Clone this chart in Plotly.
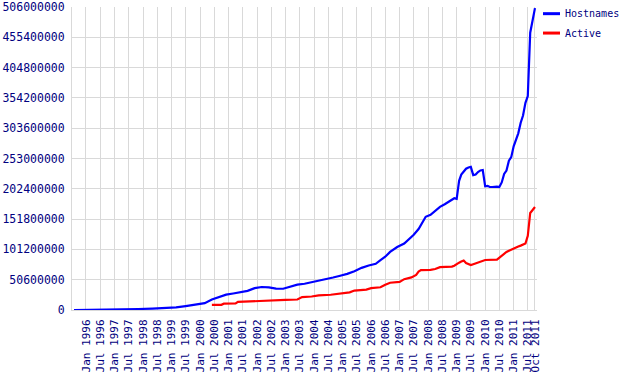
import plotly.graph_objects as go

# ---------------- data (values in millions of sites) ----------------
host_dates = [
    "1995-08-01", "1996-01-01", "1996-07-01", "1997-01-01", "1997-05-01", "1997-11-01",
    "1998-05-01", "1998-11-01", "1999-03-01", "1999-07-01", "1999-11-01", "2000-01-01",
    "2000-03-01", "2000-06-01", "2000-09-01", "2000-12-01", "2001-03-01", "2001-06-01",
    "2001-09-01", "2001-12-01", "2002-03-01", "2002-06-01", "2002-09-01", "2002-12-01",
    "2003-03-01", "2003-06-01", "2003-09-01", "2003-12-01", "2004-03-01", "2004-06-01",
    "2004-09-01", "2004-12-01", "2005-03-01", "2005-06-01", "2005-09-01", "2005-12-01",
    "2006-03-01", "2006-05-01", "2006-07-01", "2006-09-01", "2006-12-01", "2007-03-01",
    "2007-05-01", "2007-07-01", "2007-09-01", "2007-11-01", "2007-12-01", "2008-02-01",
    "2008-04-01", "2008-06-01", "2008-08-01", "2008-10-01", "2008-12-01", "2009-01-01",
    "2009-02-01", "2009-03-01", "2009-04-01", "2009-05-01", "2009-06-01", "2009-07-01",
    "2009-08-01", "2009-09-01", "2009-10-01", "2009-11-01", "2009-12-01", "2010-01-01",
    "2010-02-01", "2010-03-01", "2010-04-01", "2010-05-01", "2010-06-01", "2010-07-01",
    "2010-08-01", "2010-09-01", "2010-10-01", "2010-11-01", "2010-12-01", "2011-01-01",
    "2011-02-01", "2011-03-01", "2011-04-01", "2011-05-01", "2011-06-01", "2011-07-01",
    "2011-08-01", "2011-09-01", "2011-10-01",
]
hostnames = [
    0.02, 0.1, 0.3, 0.65, 1.1, 1.6,
    2.4, 3.5, 4.5, 6.6, 8.5, 9.6,
    11.5, 17.5, 21.2, 25.7, 27.6, 29.6,
    32.0, 36.5, 38.4, 37.9, 35.6, 35.5,
    39.4, 42.3, 43.8, 46.1, 49.1, 51.6,
    54.2, 57.2, 60.3, 64.8, 70.4, 74.4,
    77.2, 83.3, 88.9, 96.9, 105.2, 111.0,
    118.0, 125.6, 135.2, 149.1, 155.6, 158.9,
    165.7, 172.3, 176.7, 182.2, 186.7, 185.5,
    215.7, 226.1, 231.5, 235.9, 238.0, 239.0,
    225.2, 226.1, 230.4, 233.1, 233.8, 206.7,
    207.3, 205.4, 205.4, 206.0, 206.0, 205.4,
    213.0, 227.2, 232.8, 249.4, 255.3, 273.3,
    284.3, 295.0, 312.7, 324.7, 346.0, 357.3,
    463.0, 485.4, 504.1,
]

active_dates = [
    "2000-06-01", "2000-10-01", "2000-11-01", "2001-04-01", "2001-05-01", "2001-11-01",
    "2002-01-01", "2002-06-01", "2003-01-01", "2003-06-01", "2003-08-01", "2003-12-01",
    "2004-03-01", "2004-08-01", "2004-12-01", "2005-04-01", "2005-06-01", "2005-11-01",
    "2006-01-01", "2006-05-01", "2006-07-01", "2006-09-01", "2007-01-01", "2007-03-01",
    "2007-06-01", "2007-08-01", "2007-09-01", "2007-10-01", "2008-02-01", "2008-04-01",
    "2008-06-01", "2008-11-01", "2008-12-01", "2009-01-01", "2009-02-01", "2009-03-01",
    "2009-04-01", "2009-05-01", "2009-06-01", "2009-07-01", "2009-08-01", "2009-09-01",
    "2009-10-01", "2009-11-01", "2009-12-01", "2010-01-01", "2010-06-01", "2010-07-01",
    "2010-08-01", "2010-09-01", "2010-10-01", "2010-11-01", "2010-12-01", "2011-01-01",
    "2011-02-01", "2011-03-01", "2011-04-01", "2011-05-01", "2011-06-01", "2011-07-01",
    "2011-08-01", "2011-09-01", "2011-10-01",
]
active = [
    8.4, 8.6, 10.5, 11.0, 13.5, 14.5,
    16.0, 16.5, 16.8, 17.5, 21.5, 22.5,
    24.5, 25.5, 28.0, 29.5, 32.5, 34.0,
    36.5, 38.0, 42.0, 45.5, 47.0, 51.5,
    54.5, 58.5, 64.0, 66.5, 67.0, 68.5,
    71.5, 72.5, 74.0, 77.0, 79.0, 81.0,
    82.5, 78.5, 76.5, 75.0, 76.5, 78.0,
    79.5, 81.5, 83.0, 83.5, 84.0, 87.0,
    90.5, 94.5, 97.0, 99.0, 101.0, 103.0,
    104.5, 106.0, 107.5, 109.0, 111.0, 124.0,
    162.0, 167.0, 172.0,
]

x_tick_dates = [
    "1996-01-01", "1996-07-01", "1997-01-01", "1997-07-01", "1998-01-01", "1998-07-01",
    "1999-01-01", "1999-07-01", "2000-01-01", "2000-07-01", "2001-01-01", "2001-07-01",
    "2002-01-01", "2002-07-01", "2003-01-01", "2003-07-01", "2004-01-01", "2004-07-01",
    "2005-01-01", "2005-07-01", "2006-01-01", "2006-07-01", "2007-01-01", "2007-07-01",
    "2008-01-01", "2008-07-01", "2009-01-01", "2009-07-01", "2010-01-01", "2010-07-01",
    "2011-01-01", "2011-07-01", "2011-10-01",
]
x_tick_labels = [
    "Jan 1996", "Jul 1996", "Jan 1997", "Jul 1997", "Jan 1998", "Jul 1998",
    "Jan 1999", "Jul 1999", "Jan 2000", "Jul 2000", "Jan 2001", "Jul 2001",
    "Jan 2002", "Jul 2002", "Jan 2003", "Jul 2003", "Jan 2004", "Jul 2004",
    "Jan 2005", "Jul 2005", "Jan 2006", "Jul 2006", "Jan 2007", "Jul 2007",
    "Jan 2008", "Jul 2008", "Jan 2009", "Jul 2009", "Jan 2010", "Jul 2010",
    "Jan 2011", "Jul 2011", "Oct 2011",
]
y_tick_labels = [
    "0", "50600000", "101200000", "151800000", "202400000", "253000000",
    "303600000", "354200000", "404800000", "455400000", "506000000",
]
series_names = ["Hostnames", "Active"]
series_colors = ["#0000FF", "#FF0000"]

# ---------------- figure ----------------
NAVY = "#000080"
GRID = "#d9d9d9"
FONT = "DejaVu Sans Mono"

y_tick_vals = [int(s) / 1e6 for s in y_tick_labels]

fig = go.Figure()
fig.add_trace(go.Scatter(x=host_dates, y=hostnames, mode="lines", name=series_names[0],
                         line=dict(color=series_colors[0], width=2.2), showlegend=False))
fig.add_trace(go.Scatter(x=active_dates, y=active, mode="lines", name=series_names[1],
                         line=dict(color=series_colors[1], width=2.2), showlegend=False))

# custom legend (short line samples like the original)
legend_y = [0.978, 0.914]
for name, col, ly in zip(series_names, series_colors, legend_y):
    fig.add_shape(type="line", xref="paper", yref="paper", x0=1.0129, x1=1.0495,
                  y0=ly, y1=ly, line=dict(color=col, width=3))
    fig.add_annotation(xref="paper", yref="paper", x=1.056, y=ly, text=name,
                       showarrow=False, xanchor="left", yanchor="middle",
                       font=dict(family=FONT, size=10, color=NAVY))

fig.update_layout(
    width=624, height=377,
    margin=dict(l=72, r=87, t=7, b=67, pad=0, autoexpand=False),
    paper_bgcolor="white", plot_bgcolor="white",
    font=dict(family=FONT, size=12, color=NAVY),
)
fig.update_xaxes(
    type="date", range=["1995-07-06", "2011-10-27"], automargin=False,
    tickmode="array", tickvals=x_tick_dates, ticktext=x_tick_labels,
    tickangle=-90, tickfont=dict(family=FONT, size=11, color=NAVY),
    showgrid=True, gridcolor=GRID, gridwidth=1,
    showline=True, linecolor=GRID, linewidth=1, mirror=False,
    ticks="", ticklabelstandoff=4, zeroline=False,
)
fig.update_yaxes(
    range=[0, 506], automargin=False,
    tickmode="array", tickvals=y_tick_vals, ticktext=y_tick_labels,
    tickfont=dict(family=FONT, size=11.5, color=NAVY),
    showgrid=True, gridcolor=GRID, gridwidth=1,
    showline=True, linecolor=GRID, linewidth=1,
    ticks="", ticklabelstandoff=4, zeroline=False,
)

fig.write_html(
    "out.html",
    config={"displayModeBar": False},
    post_script="document.body.style.margin='0';document.body.style.overflow='hidden';",
)
